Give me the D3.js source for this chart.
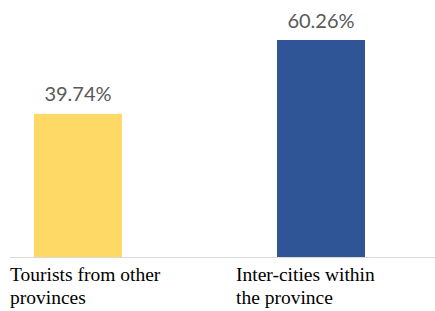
<!DOCTYPE html>
<html lang="en">
    <head>
        <meta charset="utf-8">
        <title>Tourist share</title>
        <script type="text/javascript" src="https://d3js.org/d3.v7.min.js"></script>
        <style type="text/css">
            body{
                margin: 0;
                background-color: white;
            }
            .cat{
                font-family: "Liberation Serif", "Times New Roman", Times, "DejaVu Serif", serif;
            }
        </style>
    </head>
    <body>
        <script type="text/javascript">

        //data
        const categories = ["Tourists from other provinces", "Inter-cities within the province"];
        const labelLines = [["Tourists from other", "provinces"], ["Inter-cities within", "the province"]];
        const values = [39.74, 60.26];
        const colors = ["#FFD966", "#2F5597"];

        const width = 435;
        const height = 311;
        const baseY = 257;

        const xScale = d3.scaleBand()
                        .domain(categories)
                        .range([34, 365])
                        .paddingInner(0.638)
                        .paddingOuter(0);

        const yScale = d3.scaleLinear()
                        .domain([0, 60.26])
                        .range([baseY, 40]);

        const svg = d3.select("body")
                    .append("svg")
                    .attr("width", width)
                    .attr("height", height);

        //bars
        svg.selectAll("rect.bar")
            .data(values)
            .enter()
            .append("rect")
            .attr("class", "bar")
            .attr("x", (d, i) => xScale(categories[i]))
            .attr("y", d => yScale(d))
            .attr("width", xScale.bandwidth())
            .attr("height", d => baseY - yScale(d))
            .attr("fill", (d, i) => colors[i]);

        //baseline
        svg.append("line")
            .attr("x1", 10)
            .attr("x2", width)
            .attr("y1", baseY + 0.5)
            .attr("y2", baseY + 0.5)
            .attr("stroke", "#d9d9d9")
            .attr("stroke-width", 1);

        //value labels
        svg.selectAll("text.val")
            .data(values)
            .enter()
            .append("text")
            .attr("class", "val")
            .attr("x", (d, i) => xScale(categories[i]) + xScale.bandwidth() / 2)
            .attr("y", d => yScale(d) - 12.5)
            .attr("text-anchor", "middle")
            .attr("fill", "#595959")
            .style("font-family", "Lato, sans-serif")
            .style("font-size", "20px")
            .text(d => d.toFixed(2) + "%");

        //category labels
        const catX = [10, 236];
        labelLines.forEach((lines, i) => {
            const t = svg.append("text")
                .attr("class", "cat")
                .attr("x", catX[i])
                .attr("y", 281)
                .attr("fill", "#000")
                .style("font-size", "19.5px");
            lines.forEach((ln, j) => {
                t.append("tspan")
                    .attr("x", catX[i])
                    .attr("dy", j === 0 ? 0 : 23)
                    .text(ln);
            });
        });

        </script>
    </body>
</html>
